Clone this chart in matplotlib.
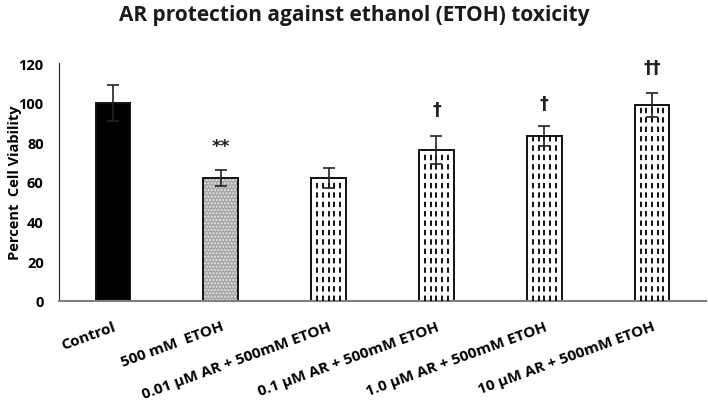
import numpy as np
import matplotlib
matplotlib.use('Agg')
import matplotlib.pyplot as plt

plt.rcParams['font.family'] = ['Open Sans', 'DejaVu Sans']

# 数据
groups = ['Control', '500 mM  ETOH', '0.01 µM AR + 500mM ETOH', '0.1 µM AR + 500mM ETOH',
          '1.0 µM AR + 500mM ETOH', '10 µM AR + 500mM ETOH']
viability = [100, 62, 62, 76, 83, 99]
errors = [9, 4, 5, 7, 5, 6]
marks = ['', '**', '', '†', '†', '††']
mark_y = [0, 78, 0, 97, 100, 118]

fig = plt.figure(figsize=(7.08, 4.10), dpi=100)
ax = fig.add_axes([59/708, 1-302/410, 647/708, 238/410])

x = np.arange(len(groups))
w = 0.32
faces = ['black', '#a6a6a6', 'white', 'white', 'white', 'white']
bars = ax.bar(x, viability, width=w, color=faces, edgecolor='#111111', linewidth=1.4, zorder=2)
# 灰色点状纹理
bars[1].set_hatch('.....')
bars[1].set_edgecolor('#e6e6e6')
ax.bar(x[1], viability[1], width=w, color='none', edgecolor='#111111', linewidth=1.4, zorder=2.5)

# 竖向虚线纹理
for i, b in enumerate(bars):
    if i < 2:
        continue
    x0 = b.get_x()
    for xi in np.linspace(x0 + w*0.17, x0 + w*0.83, 5):
        ln = ax.vlines(xi, 0, viability[i], colors='black', linewidth=1.3,
                       linestyles=(0, (3.0, 2.2)), zorder=3)
        ln.set_clip_path(b)

ax.errorbar(x, viability, yerr=errors, fmt='none', ecolor='#222222', elinewidth=1.2,
            capsize=4, capthick=1.2, zorder=4)

for i, m in enumerate(marks):
    if m:
        ax.text(x[i], mark_y[i], m, ha='center', va='center', fontsize=12.5,
                fontweight='bold', family=['DejaVu Sans'], color='#222222')

ax.set_xlim(-0.5, len(groups) - 0.5)
ax.set_ylim(0, 120)
ax.set_yticks(range(0, 121, 20))
ax.tick_params(axis='both', length=0)
ax.tick_params(axis='y', pad=11, labelsize=10.5)
for s in ['top', 'right']:
    ax.spines[s].set_visible(False)
ax.spines['left'].set_color('#222222')
ax.spines['left'].set_linewidth(0.8)
ax.spines['bottom'].set_color('#7f7f7f')
ax.spines['bottom'].set_linewidth(1.5)

ax.set_xticks(x)
ax.set_xticklabels(groups, rotation=20, ha='right', va='top', rotation_mode='anchor',
                   fontweight='bold', fontsize=11)
ax.tick_params(axis='x', pad=13)
for lab in ax.get_yticklabels():
    lab.set_fontweight('bold')

fig.text(15/708, 1-183/410, 'Percent  Cell Viability', rotation=90, ha='center', va='center',
         fontsize=10.5, fontweight='bold')
fig.text(0.5, 0.962, 'AR protection against ethanol (ETOH) toxicity', ha='center', va='center',
         fontsize=15, fontweight='bold', color='#1a1a1a')

fig.savefig('out.png', dpi=100)
